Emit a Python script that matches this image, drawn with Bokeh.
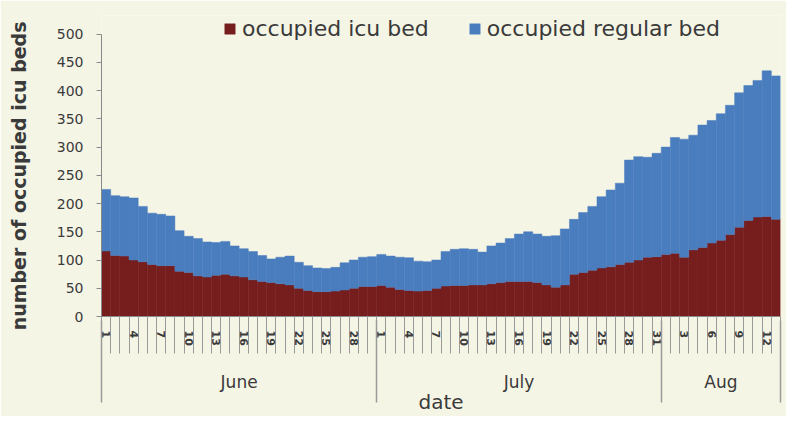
from bokeh.plotting import figure
from bokeh.models import (LinearAxis, FixedTicker, Legend, LegendItem, Range1d,
                          ColumnDataSource)
from bokeh.embed import file_html
from bokeh.resources import INLINE

# ---- data ----
month_names = ["June", "July", "Aug"]
month_lengths = [30, 31, 13]
days = list(range(1, 31)) + list(range(1, 32)) + list(range(1, 14))

icu = [116, 108, 107, 100, 97, 92, 90, 90, 80, 78,
       72, 70, 73, 75, 72, 70, 65, 62, 60, 58,
       56, 50, 46, 44, 44, 45, 47, 50, 53, 53,
       55, 52, 48, 46, 45, 46, 50, 54, 55, 55,
       56, 56, 58, 60, 62, 62, 62, 60, 56, 52,
       56, 75, 78, 82, 86, 88, 92, 96, 100, 105,
       106, 110, 112, 105, 118, 122, 130, 135, 145, 158,
       170, 176, 177, 172]

regular = [109, 106, 105, 110, 98, 91, 91, 88, 72, 64,
           66, 62, 58, 58, 53, 50, 50, 46, 42, 47,
           51, 46, 44, 42, 41, 42, 48, 50, 52, 53,
           55, 55, 57, 58, 53, 51, 50, 61, 64, 65,
           63, 58, 67, 70, 76, 84, 88, 86, 86, 91,
           99, 97, 106, 113, 126, 136, 144, 181, 183, 177,
           183, 190, 205, 209, 203, 217, 217, 224, 229, 238,
           239, 242, 258, 254]

y_ticks = [0, 50, 100, 150, 200, 250, 300, 350, 400, 450, 500]
series_names = ["occupied icu bed", "occupied regular bed"]
y_title = "number of occupied icu beds"
x_title = "date"

ICU_COLOR = "#761D1E"
REG_COLOR = "#4A7DBE"
BG = "#F5F5E6"
TXT = "#3a3a3a"
AXC = "#8a8a8a"
FONT = "DejaVu Sans"

n = len(days)
xs = list(range(n))
src = ColumnDataSource(dict(x=xs, icu=icu, regular=regular))

# frame extends a little above 500 so that the legend fits inside it
p = figure(width=786, height=416, x_range=Range1d(-0.5, n - 0.5),
           y_range=Range1d(0, 533), output_backend="svg",
           toolbar_location=None, min_border_left=101, min_border_top=15,
           min_border_bottom=97, min_border_right=6)
p.background_fill_color = BG
p.border_fill_color = BG
p.outline_line_color = None
p.xgrid.visible = False
p.ygrid.visible = False

rs = p.vbar_stack(["icu", "regular"], x="x", width=1.0, source=src,
                  fill_color=[ICU_COLOR, REG_COLOR],
                  line_color=[ICU_COLOR, REG_COLOR], line_width=0.5)

# y axis
ya = p.yaxis[0]
ya.ticker = FixedTicker(ticks=y_ticks)
ya.bounds = (0, 500)
ya.major_tick_out = 5
ya.major_tick_in = 0
ya.minor_tick_line_color = None
ya.axis_line_color = AXC
ya.major_tick_line_color = AXC
ya.major_label_text_font = FONT
ya.major_label_text_font_size = "14px"
ya.major_label_text_color = TXT
ya.major_label_standoff = 13
# trailing no-break spaces keep the visible title centred on the 0-500 span
ya.axis_label = y_title + "\u00a0\u00a0\u00a0"
ya.axis_label_text_font = FONT
ya.axis_label_text_font_size = "19px"
ya.axis_label_text_font_style = "bold"
ya.axis_label_text_color = TXT
ya.axis_label_standoff = 24

# x axis (days)
label_idx = [i for i in xs if i % 3 == 0]
xa = p.xaxis[0]
xa.ticker = FixedTicker(ticks=label_idx, minor_ticks=[i - 0.5 for i in range(n + 1)])
xa.major_label_overrides = {i: str(days[i]) for i in label_idx}
xa.major_label_orientation = "vertical"
xa.major_tick_out = 0
xa.major_tick_in = 0
xa.minor_tick_out = 37
xa.minor_tick_in = 0
xa.minor_tick_line_color = "#9a9a9a"
xa.axis_line_color = AXC
xa.major_label_text_font = FONT
xa.major_label_text_font_size = "11px"
xa.major_label_text_font_style = "bold"
xa.major_label_text_color = TXT
xa.major_label_standoff = -23

# x axis (months)
bounds = [-0.5]
for L in month_lengths:
    bounds.append(bounds[-1] + L)
centers = [(bounds[k] + bounds[k + 1]) / 2 for k in range(len(month_names))]
xa2 = LinearAxis(ticker=FixedTicker(ticks=centers, minor_ticks=bounds))
xa2.major_label_overrides = {c: m for c, m in zip(centers, month_names)}
xa2.major_tick_out = 0
xa2.major_tick_in = 0
xa2.minor_tick_in = 28
xa2.minor_tick_out = 54
xa2.minor_tick_line_color = "#9a9a9a"
xa2.minor_tick_line_width = 1.5
xa2.axis_line_color = None
xa2.major_label_text_font = FONT
xa2.major_label_text_font_size = "17px"
xa2.major_label_text_color = TXT
xa2.major_label_standoff = -31
xa2.axis_label = x_title
xa2.axis_label_text_font = FONT
xa2.axis_label_text_font_size = "20px"
xa2.axis_label_text_font_style = "normal"
xa2.axis_label_text_color = TXT
xa2.axis_label_standoff = -5
p.add_layout(xa2, "below")

legend = Legend(items=[LegendItem(label=series_names[0], renderers=[rs[0]]),
                       LegendItem(label=series_names[1], renderers=[rs[1]])],
                orientation="horizontal", location=(122, 275),
                background_fill_alpha=0, border_line_color=None,
                label_text_font=FONT, label_text_font_size="22px",
                label_text_color=TXT, glyph_width=13, glyph_height=13,
                label_standoff=6, spacing=39, padding=0, margin=0)
p.add_layout(legend)

open("out.html", "w").write(file_html(p, INLINE))
